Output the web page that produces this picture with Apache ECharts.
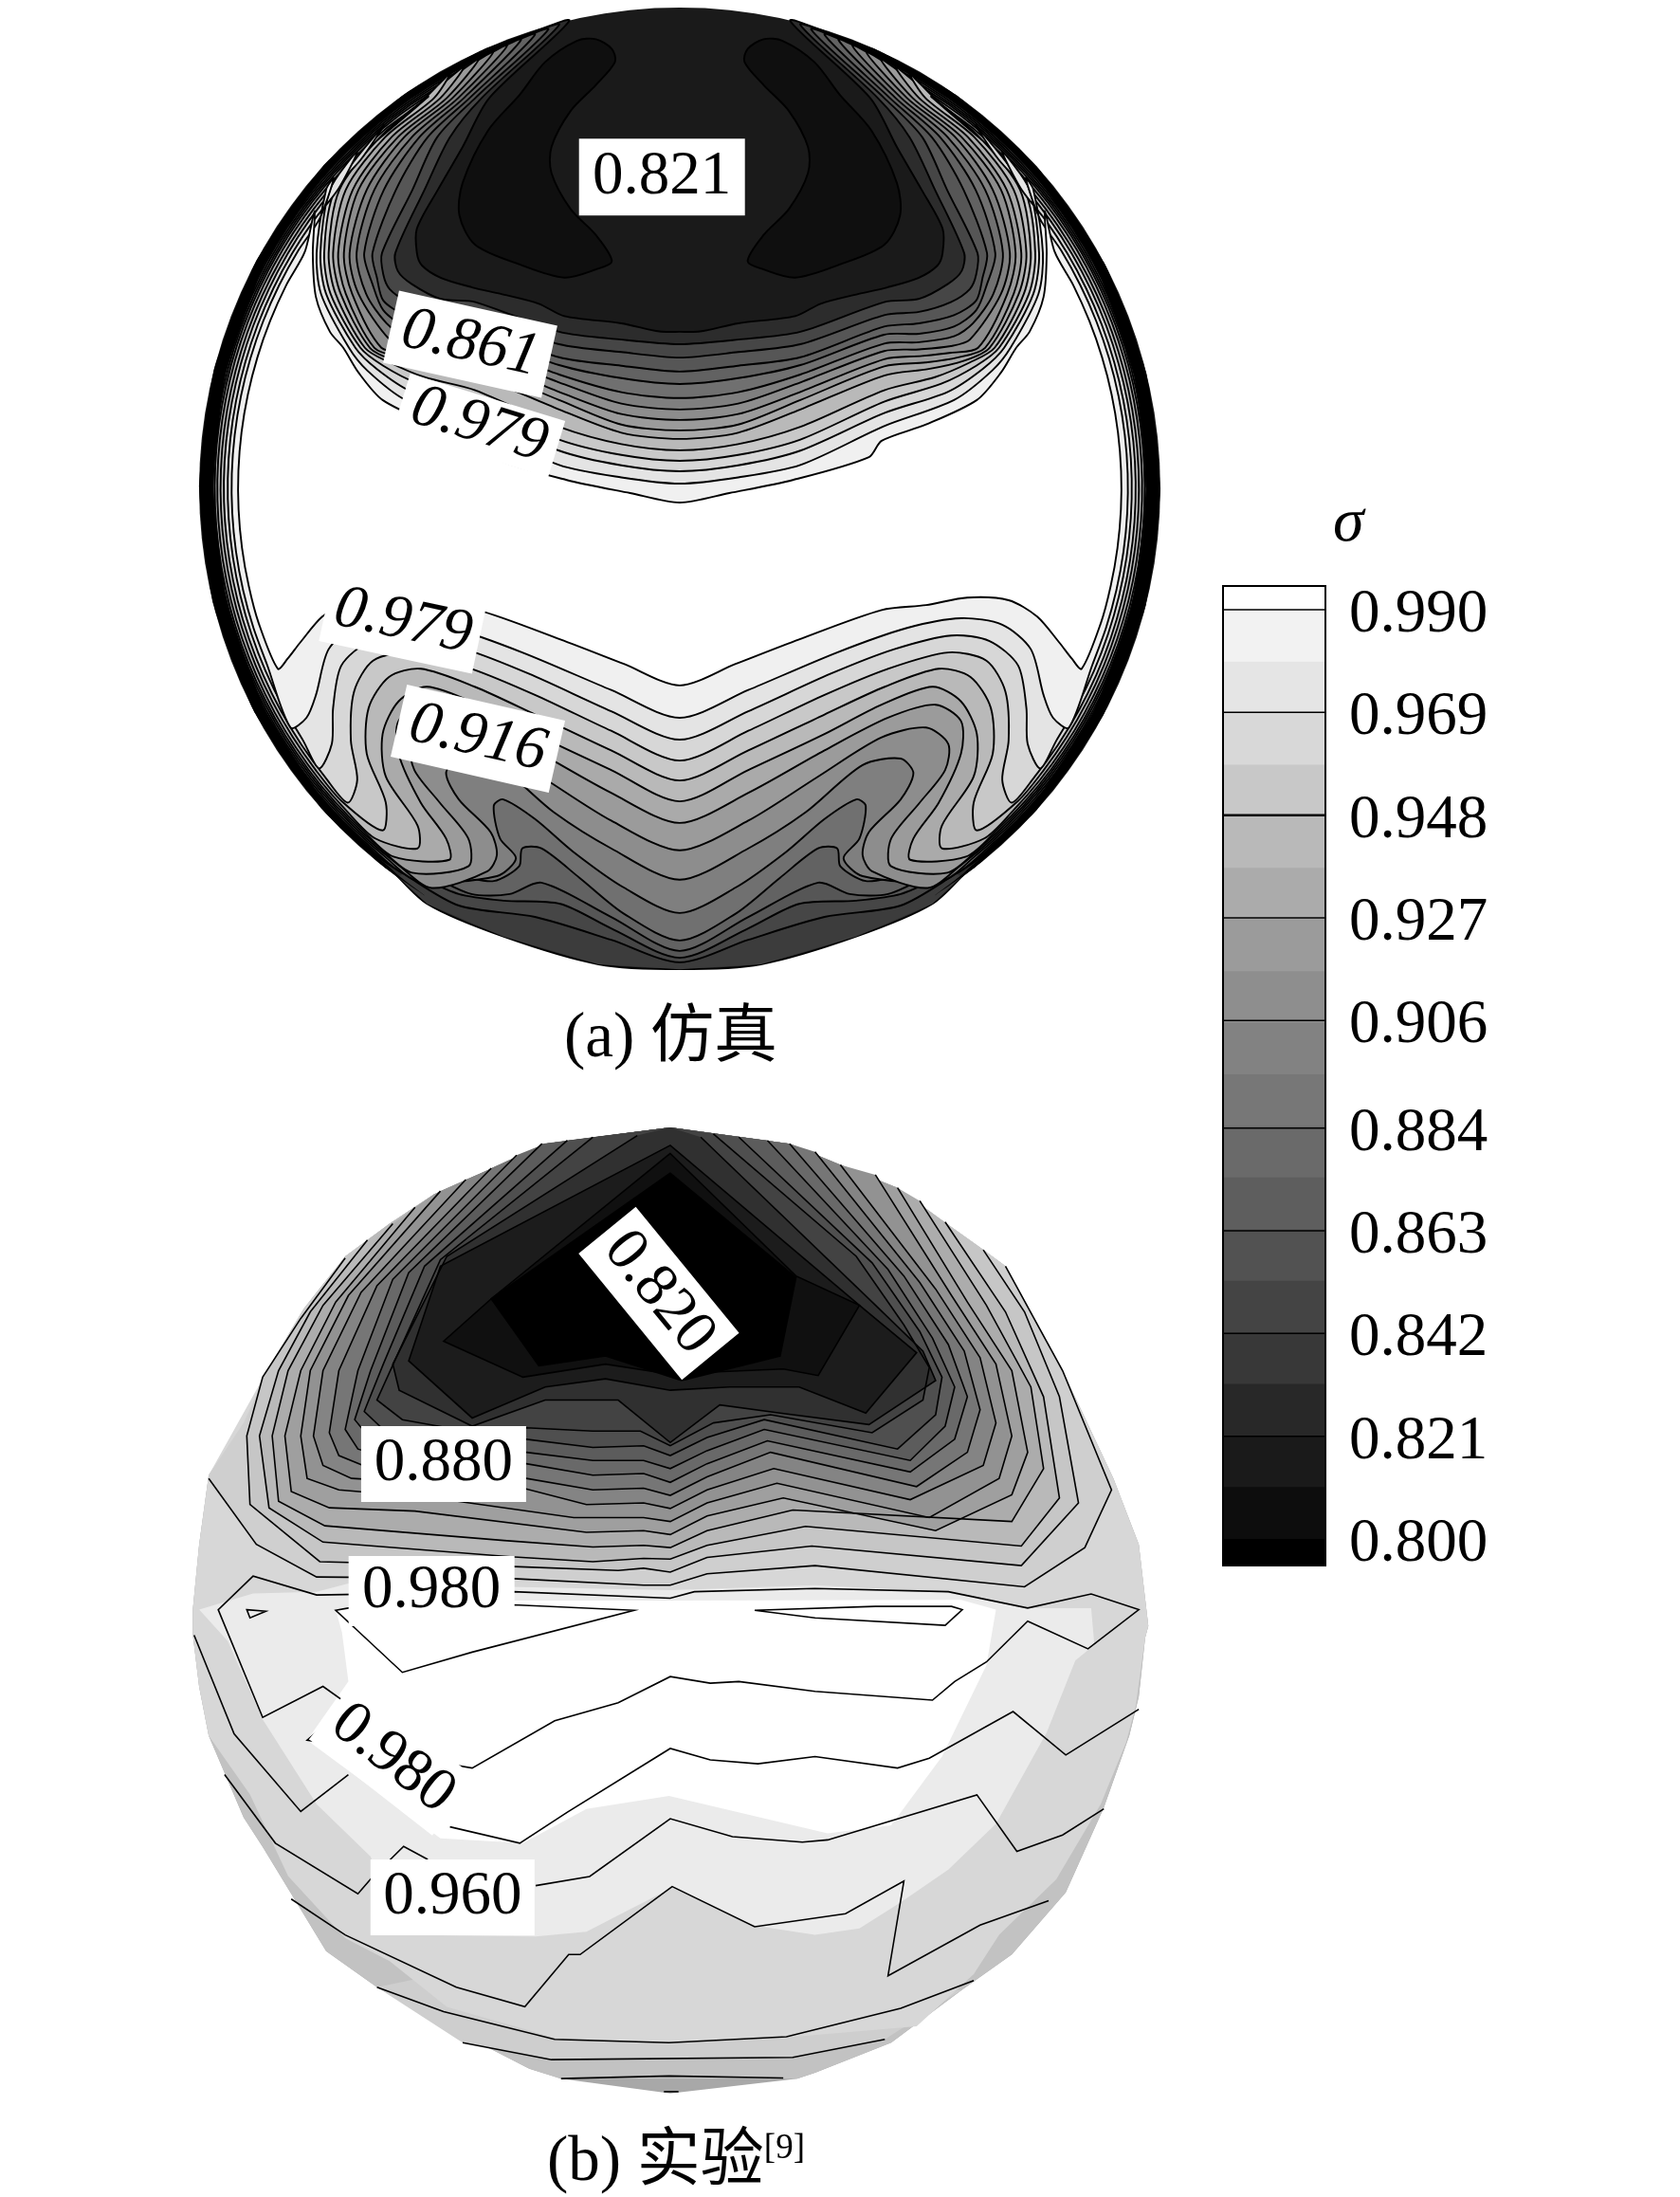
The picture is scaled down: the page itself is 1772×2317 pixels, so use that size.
<!DOCTYPE html>
<html><head><meta charset="utf-8">
<style>html,body{margin:0;padding:0;background:#fff}#c{width:1772px;height:2317px}</style>
<script src="https://cdn.jsdelivr.net/npm/echarts@6/dist/echarts.min.js"></script>
</head><body><div id="c"></div>
<script>
// ---------- colour scale ----------
const scaleTicks=[0.800,0.821,0.842,0.863,0.884,0.906,0.927,0.948,0.969,0.990];
const bandEdges=[0.99485,0.990,0.9794,0.9689,0.9583,0.9478,0.9372,0.9267,0.9161,0.9056,0.8950,0.8844,0.8739,0.8633,0.8528,0.8422,0.8317,0.8211,0.8106,0.800,0.79457];
const bandGreys=['#ffffff','#f2f2f2','#e5e5e5','#d8d8d8','#c8c8c8','#b9b9b9','#ababab','#9b9b9b','#8e8e8e','#828282','#777777','#6a6a6a','#5e5e5e','#525252','#444444','#383838','#282828','#1a1a1a','#0d0d0d','#000000'];

// ---------- panel (a) simulation: contours ----------
const BOTTOM_A=1568, MID_A=1544;
const levelGreysA=['#ffffff','#f0f0f0','#e4e4e4','#d7d7d7','#c8c8c8','#b9b9b9','#aaaaaa','#9b9b9b','#8d8d8d','#7f7f7f','#707070','#626262','#565656','#464646','#2c2c2c'];
const rimInsetA=[.06,.05,.044,.038,.033,.028,.024,.021,.018,.015,.012,.01,.008,.006,.003];
const topA=[
[[197,645],[194,775],[199,910],[221,1016],[242,1065],[266,1141],[304,1225],[384,1300],[454,1350],[474,1400],[594,1470],[694,1510],[772,1539]],
[[227,546],[215,581],[200,775],[207,900],[251,1065],[280,1135],[340,1225],[450,1305],[582,1424],[680,1462],[772,1481]],
[[264,465],[221,581],[206,775],[215,900],[261,1065],[295,1130],[350,1200],[450,1265],[582,1380],[680,1425],[772,1443]],
[[306,383],[229,581],[212,775],[222,900],[269,1065],[305,1120],[360,1175],[450,1230],[582,1346],[680,1393],[772,1411]],
[[376,296],[300,420],[236,581],[219,775],[230,900],[276,1065],[315,1110],[370,1155],[450,1195],[582,1307],[680,1360],[772,1379]],
[[410,225],[385,300],[308,420],[246,581],[226,775],[238,900],[284,1065],[325,1105],[380,1130],[450,1150],[582,1254],[680,1325],[772,1344]],
[[432,205],[395,300],[318,420],[257,581],[234,775],[246,900],[291,1065],[335,1095],[385,1110],[450,1122],[582,1225],[680,1300],[772,1318]],
[[455,182],[405,300],[328,420],[266,581],[243,775],[256,900],[302,1065],[345,1080],[390,1090],[450,1100],[582,1200],[680,1268],[772,1286]],
[[478,160],[414,300],[338,420],[279,581],[252,775],[266,900],[315,1040],[345,1060],[395,1070],[450,1075],[582,1171],[680,1236],[772,1254]],
[[500,140],[423,300],[350,420],[291,581],[263,775],[278,900],[310,990],[340,1030],[395,1048],[450,1052],[582,1147],[680,1201],[772,1219]],
[[522,122],[432,300],[362,420],[306,581],[275,775],[288,870],[305,950],[340,1000],[395,1022],[450,1025],[582,1118],[680,1158],[772,1176]],
[[544,106],[441,300],[375,420],[325,581],[288,775],[295,850],[305,920],[340,965],[395,990],[450,1000],[582,1094],[680,1120],[772,1138]],
[[565,90],[450,300],[390,420],[351,581],[303,775],[305,840],[315,885],[345,925],[395,955],[450,965],[582,1054],[680,1078],[772,1095]],
[[582,76],[460,300],[410,420],[370,581],[324,775],[328,830],[350,870],[395,915],[450,925],[582,1016],[680,1040],[772,1054]],
[[598,64],[472,300],[430,450],[391,581],[358,700],[358,775],[366,813],[396,851],[445,880],[490,900],[550,930],[590,968],[680,990],[740,1015],[772,1016]]
];
const bottomA=[
[[772,531],[860,465],[960,390],[1090,300],[1160,285],[1225,262],[1290,270],[1335,320],[1370,400],[1390,450],[1405,480]],
[[772,630],[880,545],[1020,430],[1130,355],[1215,325],[1280,345],[1325,420],[1345,560],[1360,630],[1385,660]],
[[772,697],[880,610],[1010,495],[1110,420],[1200,378],[1260,395],[1305,470],[1318,600],[1320,710],[1340,785]],
[[772,761],[880,670],[1000,560],[1100,480],[1195,430],[1255,455],[1285,550],[1290,700],[1280,820],[1295,890]],
[[772,822],[880,730],[1000,620],[1095,535],[1180,480],[1230,505],[1262,600],[1265,740],[1235,890],[1240,975]],
[[772,886],[880,790],[1000,680],[1090,590],[1170,535],[1215,580],[1240,680],[1235,810],[1185,960],[1185,1030]],
[[772,952],[880,860],[1000,730],[1100,630],[1175,590],[1215,640],[1215,740],[1180,890],[1140,1000],[1135,1065]],
[[772,1036],[880,945],[990,810],[1090,690],[1160,660],[1195,710],[1190,790],[1150,890],[1105,1000],[1105,1085]],
[[772,1126],[880,1030],[970,920],[1060,775],[1120,755],[1140,800],[1120,880],[1070,980],[1060,1050],[1075,1100]],
[[772,1228],[860,1150],[940,1040],[1000,940],[1050,880],[1065,900],[1055,1000],[1030,1060],[1060,1115]],
[[772,1312],[860,1230],[930,1120],[990,1030],[1020,1030],[1025,1085],[1065,1130],[1120,1115]],
[[772,1344],[880,1240],[990,1135],[1040,1170],[1100,1170],[1170,1110]],
[[772,1365],[880,1275],[960,1200],[1050,1190],[1120,1170],[1190,1110]],
[[772,1379],[880,1310],[1000,1240],[1120,1205],[1205,1110]],
[[772,1400],[900,1385],[1050,1300],[1170,1200],[1230,1090]]
];
const lobeA=[[665,150],[640,120],[610,125],[560,190],[520,290],[470,400],[430,560],[425,660],[450,750],[520,810],[590,850],[640,825],[665,800],[640,720],[600,640],[570,530],[570,450],[600,340],[640,260],[670,190]];
const capA=[[772,2568],[1195,2660],[1216,2685],[1170,2768],[1050,2868],[900,2953],[772,2968],[644,2953],[494,2868],[374,2768],[328,2685],[349,2660]];
const blackAngles=[76,66,55,42,28,14,0,-14,-28,-42,-52,-58];
const blackInset=[.0,.005,.009,.013,.019,.026,.03,.029,.022,.012,.005,0];

// ---------- panel (b) experiment: reading offsets of the crops ----------
const Z9=1132, Z7=1568;
const outlineLeftB=[[772,55],[575,105],[480,190],[400,260],[330,350],[260,450],[195,610],[140,790],[100,960],[45,1120],[30,1332],[20,1532],[20,1608],[30,1768],[45,1918],[100,2168],[130,2258],[230,2578],[310,2688],[420,2808],[550,2938],[600,2968]];
const outlineRightB=[[972,2968],[1000,2950],[1120,2858],[1230,2698],[1310,2588],[1395,2398],[1455,2138],[1495,1918],[1510,1798],[1520,1618],[1525,1582],[1510,1332],[1470,1130],[1390,800],[1300,480],[1265,430],[1200,340],[1130,240],[1040,170],[960,105]];
const capTipB=[772,3013];
const bandB1=[[310,2688],[445,2858],[585,2908],[965,2903],[1110,2848],[1230,2698],[772,2500]];
const bandB2=[[45,1918],[110,2098],[170,2348],[260,2538],[330,2608],[420,2748],[590,2843],[770,2858],[950,2843],[1160,2808],[1250,2648],[1290,2528],[1380,2358],[1450,2128],[1490,1938],[1505,1828],[1520,1618],[1525,1582],[1510,1332],[1470,1130],[1390,800],[1300,480],[1130,240],[960,105],[772,55],[575,105],[400,260],[260,450],[140,790],[45,1120],[30,1332],[20,1532],[20,1608],[30,1768]];
const bandB3=[[30,1532],[115,1482],[215,1477],[265,1452],[772,1472],[1000,1457],[1200,1477],[1340,1527],[1435,1527],[1440,1640],[1410,1688],[1365,1908],[1285,2188],[1210,2328],[1135,2428],[1070,2508],[1000,2528],[900,2498],[775,2383],[700,2458],[640,2518],[560,2533],[345,2528],[300,2288],[215,2128],[130,1868],[75,1628]];
const whiteB=[[245,400],[255,470],[265,620],[200,800],[410,1100],[540,1115],[640,1010],[770,970],[1020,1085],[1120,1060],[1200,850],[1270,570],[1285,400],[1230,370],[780,372],[530,372]];
const contoursB=[
[[45,1130],[120,1332],[215,1432],[525,1437],[730,1457],[772,1457],[830,1422],[1000,1397],[1330,1462],[1425,1342],[1467,1165],[1390,800],[1300,480]],
[[260,455],[190,640],[130,820],[105,1000],[110,1210],[220,1385],[525,1400],[690,1412],[730,1405],[772,1417],[830,1372],[995,1337],[1325,1397],[1415,1205],[1385,880],[1330,620],[1265,430]],
[[295,400],[205,620],[155,800],[125,1000],[140,1220],[225,1325],[520,1370],[650,1385],[730,1375],[772,1377],[830,1335],[985,1277],[1325,1337],[1385,1190],[1360,880],[1300,620],[1205,345]],
[[335,350],[225,600],[170,800],[145,1000],[155,1200],[228,1275],[510,1320],[650,1340],[730,1335],[772,1342],[830,1290],[965,1227],[1310,1262],[1360,1100],[1340,850],[1270,600],[1165,280]],
[[370,300],[245,590],[190,800],[165,1000],[175,1170],[235,1220],[370,1230],[640,1295],[730,1290],[772,1302],[830,1245],[950,1190],[1190,1290],[1310,1180],[1335,1050],[1310,800],[1240,590],[1130,240]],
[[410,250],[265,570],[205,800],[190,1000],[200,1130],[250,1165],[400,1190],[620,1250],[730,1250],[772,1262],[830,1205],[940,1145],[1180,1250],[1290,1130],[1310,1000],[1285,780],[1215,570],[1095,200]],
[[450,215],[285,560],[225,800],[210,1000],[225,1090],[270,1130],[545,1162],[640,1210],[730,1205],[772,1222],[830,1165],[935,1100],[1150,1195],[1265,1090],[1285,960],[1260,760],[1190,550],[1040,170]],
[[490,180],[310,540],[250,800],[235,990],[250,1060],[300,1100],[545,1130],[650,1165],[730,1160],[772,1182],[830,1125],[930,1050],[1160,1155],[1240,1050],[1260,920],[1235,740],[1165,530],[1000,130]],
[[530,140],[335,520],[280,800],[260,980],[280,1040],[330,1070],[545,1085],[650,1120],[730,1115],[772,1142],[830,1085],[925,1015],[1150,1110],[1220,1010],[1240,880],[1210,720],[1140,510],[960,105]],
[[570,105],[360,500],[300,800],[275,950],[300,1010],[350,1035],[545,1050],[650,1075],[730,1075],[772,1100],[830,1045],[920,980],[1150,1075],[1205,970],[1220,850],[1185,700],[1115,490],[925,95]],
[[610,95],[385,480],[320,780],[290,925],[320,980],[370,1000],[545,1010],[650,1035],[730,1030],[772,1060],[830,1005],[920,950],[1130,1040],[1190,935],[1200,820],[1165,680],[1090,470],[880,85]],
[[650,85],[410,460],[345,740],[310,890],[350,950],[450,985],[545,975],[650,985],[725,985],[772,1030],[840,960],[930,935],[1090,990],[1170,890],[1180,790],[1140,660],[1065,450],[840,75]],
[[720,80],[420,450],[335,780],[345,860],[460,970],[575,890],[690,890],[772,1020],[850,905],[945,930],[1085,965],[1190,830],[1170,740],[1090,590],[820,85]]
];
const contourGreysB=['#cfcfcf','#c6c6c6','#b9b9b9','#acacac','#9f9f9f','#929292','#848484','#767676','#696969','#5c5c5c','#4f4f4f','#434343','#303030'];
const coreB1=[[772,110],[410,480],[360,770],[460,945],[575,850],[670,825],[772,860],[865,850],[975,850],[1080,930],[1160,745],[1070,600]];
const coreB2=[[772,135],[490,580],[415,710],[540,820],[670,780],[770,810],[950,795],[1005,815],[1070,600],[970,510]];
const coreB3=[[772,195],[490,580],[565,785],[670,755],[790,830],[945,755],[970,515]];
const ringB=[[115,297],[60,400],[130,730],[225,635],[265,690],[200,800],[460,885],[590,740],[690,685],[772,605],[835,625],[880,620],[1000,650],[1185,677],[1220,620],[1270,560],[1335,435],[1430,520],[1510,400],[1435,352],[1335,395],[1210,345],[1000,335],[810,345],[772,365],[525,345],[215,355]];
const slitRightB=[[905,402],[1095,390],[1215,390],[1232,400],[1205,448],[1000,425]];
const slitLeftB=[[280,465],[350,592],[460,530],[715,402],[525,385],[265,395],[245,402],[265,438]];
const specB=[[105,400],[135,405],[110,425]];
const openLinesZ9=[
[[22,478],[85,780],[190,1018],[265,905]],
[[425,1065],[535,1115],[610,1020],[772,825],[835,860],[910,872],[1000,850],[1130,885],[1180,855],[1312,712],[1395,845],[1510,705]],
[[70,905],[150,1115],[280,1270],[300,1225],[352,1125],[390,1165]],
[[560,1245],[645,1217],[772,1040],[870,1095],[980,1112],[1020,1105],[1255,967],[1318,1140],[1390,1090],[1455,1010]]
];
const openLinesZ7=[
[[175,850],[260,960],[435,1120],[543,1180],[612,1020],[630,1020],[775,812],[905,935],[1048,895],[1140,795],[1115,1085],[1260,930],[1368,855]],
[[310,1120],[415,1195],[590,1280],[770,1290],[955,1272],[1135,1185],[1250,1100]],
[[445,1290],[585,1342],[965,1335],[1110,1280]],
[[600,1400],[770,1392],[950,1398]],
[[762,1440],[785,1440]]
];

// ---------- contour labels ----------
const labelsA=[
 {t:'0.979',at:[456,1303],rot:17,w:171,h:62,i:1},
 {t:'0.861',at:[442,1054],rot:12.5,w:171,h:78,i:1},
 {t:'0.821',at:[744,542],rot:0,w:175,h:81,i:0},
 {t:'0.979',at:[336,1905],rot:12,w:165,h:76,i:1},
 {t:'0.916',at:[454,2262],rot:12.8,w:171,h:78,i:1}
];
const labelsB=[
 {t:'0.820',at:[754,563],rot:50.7,w:172,h:78,i:0},
 {t:'0.880',at:[415,1086],rot:0,w:174,h:80,i:0},
 {t:'0.980',at:[396,1475],rot:0,w:175,h:74,i:0},
 {t:'0.980',at:[335,1989],rot:38,w:165,h:76,i:0},
 {t:'0.960',at:[429,2413],rot:0,w:173,h:80,i:0}
];

// ---------- geometry helpers ----------
const DA={cx:772,cy:1495,rx:757,ry:1472};
const rad=d=>d*Math.PI/180;
const mir=p=>[MID_A-p[0],p[1]];
const onRim=(deg,f)=>[DA.cx-DA.rx*(1-f)*Math.cos(rad(deg)),DA.cy-DA.ry*(1-f)*Math.sin(rad(deg))];
const angleOf=p=>Math.atan2((DA.cy-p[1])/DA.ry,(DA.cx-p[0])/DA.rx)*180/Math.PI;
function diskA(){const l=[];for(let a=0;a<360;a+=3)l.push(onRim(a,0));return l;}
function levelA(i){
 const top=topA[i];
 const bot=bottomA[i].map(p=>[MID_A-p[0],p[1]+BOTTOM_A]);
 const t0=angleOf(top[0])-5, t1=angleOf(bot[bot.length-1])+4;
 const rim=[];
 for(let a=t0;a>t1;a-=5){rim.push(onRim(a,rimInsetA[i]*(1+.35*Math.cos(rad(a)))));}
 const left=[...top.slice().reverse(),...rim,...bot.slice().reverse()];
 const right=left.slice(1,-1).reverse().map(mir);
 return [...left,...right];
}
function blackRim(){
 const o=blackAngles.map(a=>onRim(a,0));
 const n=blackAngles.map((a,k)=>onRim(a,blackInset[k])).reverse();
 return [...o,...n];
}
const withOff=(arr,off)=>arr.map(p=>[p[0],p[1]+off]);
function fillB(path){
 const a=path[0],b=path[path.length-1];
 const r=outlineRightB.filter(p=>p[1]<b[1]);
 const l=outlineLeftB.filter(p=>p[1]<a[1]);
 return [...path,...r,...l];
}

// ---------- layers, in paint order ----------
const layersA=[{pts:diskA(),fill:'#1a1a1a'}];
for(let i=14;i>=0;i--){
 layersA.push({pts:levelA(i),fill:levelGreysA[i],stroke:true,smooth:.28,lw:1.9});
 if(i===14) layersA.push({pts:capA,fill:'#3c3c3c'});
}
layersA.push({pts:lobeA,fill:'#0f0f0f',stroke:true,smooth:.3,lw:1.9});
layersA.push({pts:lobeA.map(mir),fill:'#0f0f0f',stroke:true,smooth:.3,lw:1.9});
layersA.push({pts:blackRim(),fill:'#000000',smooth:.15});
layersA.push({pts:blackRim().map(mir),fill:'#000000',smooth:.15});

const layersB=[
 {pts:[...outlineLeftB,capTipB,...outlineRightB],fill:'#a8a8a8'},
 {pts:[...outlineLeftB,...outlineRightB],fill:'#c2c2c2'},
 {pts:bandB1,fill:'#cecece'},
 {pts:bandB2,fill:'#d7d7d7'},
 {pts:bandB3,fill:'#ebebeb'},
 {pts:withOff(whiteB,Z9),fill:'#ffffff'}
];
contoursB.forEach((c,i)=>layersB.push({pts:fillB(c),fill:contourGreysB[i]}));
layersB.push({pts:coreB1,fill:'#1c1c1c'},{pts:coreB2,fill:'#101010'},{pts:coreB3,fill:'#000000'});
contoursB.forEach(c=>layersB.push({pts:c,open:true}));
[coreB1,coreB2,coreB3].forEach(c=>layersB.push({pts:c,stroke:true,noFill:true}));
[ringB,slitRightB,slitLeftB,specB].forEach(c=>layersB.push({pts:withOff(c,Z9),stroke:true,noFill:true}));
openLinesZ9.forEach(c=>layersB.push({pts:withOff(c,Z9),open:true}));
openLinesZ7.forEach(c=>layersB.push({pts:withOff(c,Z7),open:true}));

function layerSeries(name,layers,g){
 return {type:'custom',name,coordinateSystem:'cartesian2d',xAxisIndex:g,yAxisIndex:g,clip:false,silent:true,
  data:layers.map((_,i)=>[i,0]),
  renderItem(p,api){
   const l=layers[p.dataIndex];const pts=l.pts.map(q=>api.coord(q));
   if(l.open) return {type:'polyline',shape:{points:pts},style:{fill:null,stroke:'#000',lineWidth:1.6,lineJoin:'miter'}};
   return {type:'polygon',shape:{points:pts,smooth:l.smooth||0},
    style:{fill:l.noFill?null:l.fill,stroke:l.stroke?'#000':null,lineWidth:l.stroke?(l.lw||1.6):0}};
  }};
}
const FONT='"Liberation Serif","Times New Roman",serif';
function labelSeries(name,labels,g){
 return {type:'custom',name,coordinateSystem:'cartesian2d',xAxisIndex:g,yAxisIndex:g,clip:false,silent:true,
  data:labels.map((_,i)=>[i,0]),
  renderItem(p,api){
   const l=labels[p.dataIndex];const c=api.coord(l.at);
   return {type:'group',x:c[0],y:c[1],rotation:-rad(l.rot),children:[
    {type:'rect',shape:{x:-l.w/2,y:-l.h/2,width:l.w,height:l.h},style:{fill:'#fff'}},
    {type:'text',style:{text:l.t,x:0,y:0,align:'center',verticalAlign:'middle',fill:'#000',
      font:(l.i?'italic ':'')+'65px '+FONT}}
   ]};
  }};
}
const scaleSeries={type:'custom',name:'scale',coordinateSystem:'cartesian2d',xAxisIndex:2,yAxisIndex:2,clip:false,silent:true,
 data:bandGreys.map((_,i)=>[i,0]),
 renderItem(p,api){
  const i=p.dataIndex;const a=api.coord([0,bandEdges[i]]),b=api.coord([1,bandEdges[i+1]]);
  const kids=[{type:'rect',shape:{x:a[0],y:a[1],width:b[0]-a[0],height:b[1]-a[1]+1},style:{fill:bandGreys[i]}}];
  if(i===bandGreys.length-1){
   const t=api.coord([0,bandEdges[0]]);
   kids.push({type:'rect',shape:{x:a[0],y:t[1],width:b[0]-a[0],height:b[1]-t[1]},style:{fill:null,stroke:'#000',lineWidth:2}});
   scaleTicks.slice(1).forEach(v=>{const y=api.coord([0,v])[1];
    kids.push({type:'line',shape:{x1:a[0],y1:y,x2:b[0],y2:y},style:{stroke:'#000',lineWidth:v===0.948?2.5:1.5}});});
  }
  return {type:'group',children:kids};
 }};

const chart=echarts.init(document.getElementById('c'),null,{renderer:'canvas'});
const hidden=(g,max)=>({gridIndex:g,type:'value',min:0,max,show:false});
chart.setOption({
 animation:false,backgroundColor:'#ffffff',
 title:[
  {text:'(a) 仿真',left:590,top:1058,textStyle:{fontFamily:'"Liberation Serif","Noto Sans CJK SC"',fontWeight:'normal',fontSize:67,color:'#000'}},
  {text:'(b) 实验{s|[9]}',left:572,top:2243,textStyle:{fontFamily:'"Liberation Serif","Noto Sans CJK SC"',fontWeight:'normal',fontSize:67,color:'#000',
    rich:{s:{fontFamily:'"Liberation Serif"',fontSize:37,color:'#000',verticalAlign:'top',lineHeight:37,padding:[0,0,30,0]}}}},
  {text:'σ',left:1401,top:515,textStyle:{fontFamily:'"Liberation Serif"',fontStyle:'italic',fontWeight:'normal',fontSize:66,color:'#000'}}
 ],
 grid:[
  {left:200,top:0,width:1050,height:1080},
  {left:190,top:1170,width:1050,height:1080},
  {left:1290,top:618,width:108,height:1033}
 ],
 xAxis:[hidden(0,1568),hidden(1,1568),hidden(2,1)],
 yAxis:[
  {...hidden(0,3136),inverse:true},
  {...hidden(1,3136),inverse:true},
  {gridIndex:2,type:'value',position:'right',min:0.79457,max:0.99485,
   axisLine:{show:false},axisTick:{show:false},splitLine:{show:false},
   axisLabel:{show:true,customValues:scaleTicks,margin:25,formatter:v=>v.toFixed(3),verticalAlign:'top',lineHeight:12,
    fontFamily:'"Liberation Serif"',fontSize:65,color:'#000'}}
 ],
 series:[layerSeries('simulation',layersA,0),labelSeries('labels a',labelsA,0),
         layerSeries('experiment',layersB,1),labelSeries('labels b',labelsB,1),scaleSeries]
});
</script></body></html>
